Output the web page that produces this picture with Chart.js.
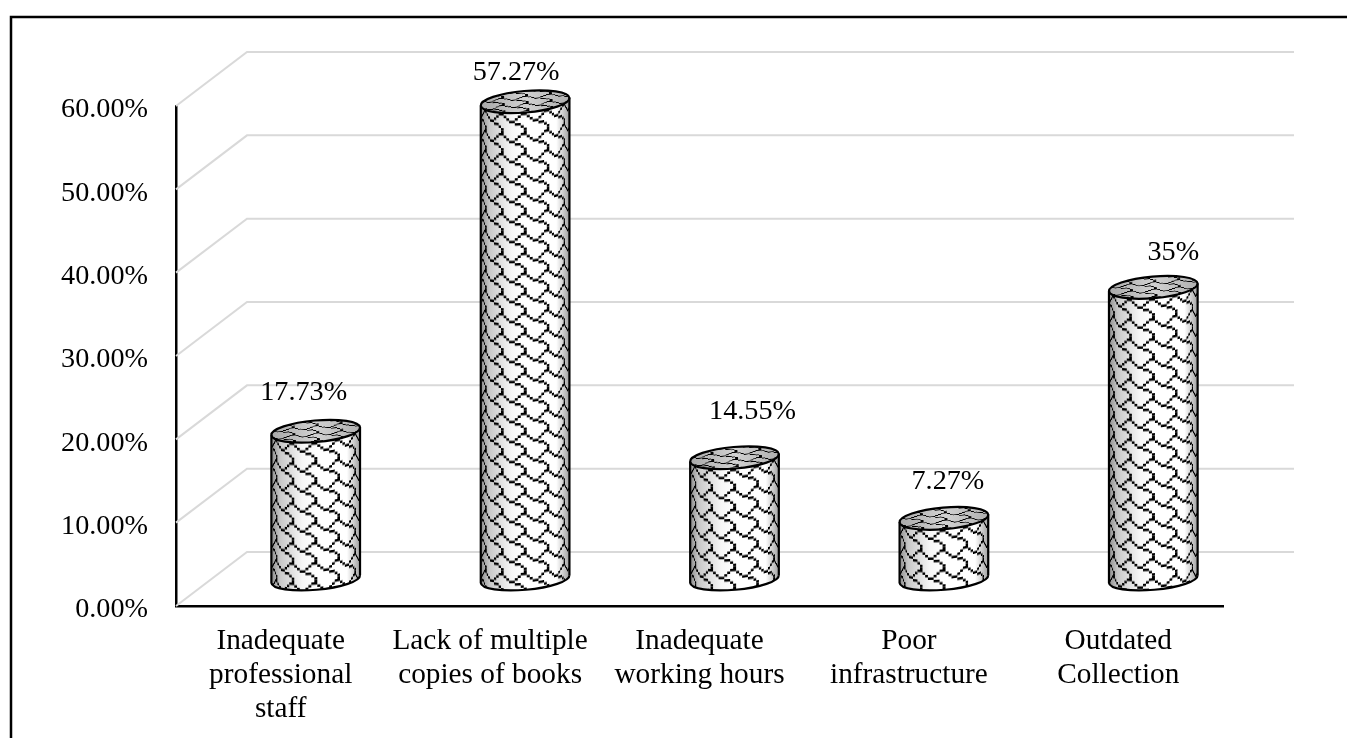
<!DOCTYPE html>
<html>
<head>
<meta charset="utf-8">
<style>
  html, body { margin: 0; background: #fff; }
  canvas { display: block; }
</style>
<script src="https://cdn.jsdelivr.net/npm/chart.js@4/dist/chart.umd.min.js"></script>
</head>
<body>
<canvas id="chart" width="1347" height="738"></canvas>
<script>
const categories = [
  ["Inadequate", "professional", "staff"],
  ["Lack of multiple", "copies of books"],
  ["Inadequate", "working hours"],
  ["Poor", "infrastructure"],
  ["Outdated", "Collection"]
];
const percentValues = [17.73, 57.27, 14.55, 7.27, 35];
const labelNudges = [[-12, -39], [-9, -29], [18, -46], [4, -37], [20, -35]];

const FONT = '"Liberation Serif", "Times New Roman", serif';
const VALUE_SIZE = 28.2;
const CATEGORY_SIZE = 29.3;
const WALL_DX = 71, WALL_DY = 54;   // how far the back wall sits from the front axes
const BAR_DX = 35, BAR_DY = 27;     // cylinders stand halfway into the floor
const TILT = -5 * Math.PI / 180;
const CAP_RY = 10.8;

// 8x8 shingle hatch, one byte per row
const shingleBits = [0x03, 0x84, 0x48, 0x30, 0x0c, 0x02, 0x01, 0x01];
const CELL_W = 3, CELL_H = 2.5;

function makeShingleStrip(w, h) {
  const tile = document.createElement("canvas");
  tile.width = 8 * CELL_W;
  tile.height = 8 * CELL_H;
  const t = tile.getContext("2d");
  t.fillStyle = "#000";
  shingleBits.forEach((byte, row) => {
    for (let col = 0; col < 8; col++) {
      if (byte & (0x80 >> col)) t.fillRect(col * CELL_W, row * CELL_H, CELL_W, CELL_H);
    }
  });
  const strip = document.createElement("canvas");
  strip.width = w;
  strip.height = h;
  const s = strip.getContext("2d");
  s.fillStyle = s.createPattern(tile, "repeat");
  s.fillRect(0, 0, w, h);
  return strip;
}
const strip = makeShingleStrip(200, 640);

function drawCylinder(ctx, cx, topY, baseY, rx) {
  const R = rx;
  const endX = rx * Math.cos(TILT);
  const endY = rx * Math.sin(TILT);

  // side wall
  ctx.save();
  ctx.beginPath();
  ctx.ellipse(cx, baseY, rx, CAP_RY, TILT, 0, Math.PI);
  ctx.lineTo(cx - endX, topY - endY);
  ctx.lineTo(cx + endX, topY + endY);
  ctx.closePath();
  ctx.clip();

  const shade = ctx.createLinearGradient(cx - rx, 0, cx + rx, 0);
  shade.addColorStop(0, "#8c8c8c");
  shade.addColorStop(0.1, "#c8c8c8");
  shade.addColorStop(0.35, "#f6f6f6");
  shade.addColorStop(0.5, "#ffffff");
  shade.addColorStop(0.85, "#ffffff");
  shade.addColorStop(1, "#a0a0a0");
  ctx.fillStyle = shade;
  ctx.fillRect(cx - rx - 2, topY - 20, 2 * rx + 4, baseY - topY + 50);

  // wrap the hatch round the wall, one pixel column at a time
  const bodyH = baseY - topY + 40;
  for (let x = -Math.ceil(rx); x < rx; x++) {
    const k = Math.max(-1, Math.min(1, (x + 0.5) / R));
    const u = R * Math.asin(k) + R * Math.PI / 2;
    const drop = CAP_RY * Math.sqrt(1 - k * k) + Math.tan(TILT) * x;
    ctx.drawImage(strip, u, 0, 1, bodyH, cx + x, topY - 20 + drop, 1, bodyH);
  }
  ctx.restore();

  // lid
  ctx.save();
  ctx.beginPath();
  ctx.ellipse(cx, topY, rx, CAP_RY, TILT, 0, Math.PI * 2);
  ctx.clip();
  const lid = ctx.createLinearGradient(cx - rx, 0, cx + rx, 0);
  lid.addColorStop(0, "#a8a8a8");
  lid.addColorStop(0.5, "#d2d2d2");
  lid.addColorStop(1, "#b0b0b0");
  ctx.fillStyle = lid;
  ctx.fillRect(cx - rx - 2, topY - 20, 2 * rx + 4, 40);
  ctx.translate(cx, topY);
  ctx.rotate(TILT);
  ctx.drawImage(strip, 0, 0, 2 * rx, 72, -rx, -13, 2 * rx, 26);
  ctx.restore();

  // outlines
  ctx.strokeStyle = "#000";
  ctx.lineWidth = 2.2;
  ctx.beginPath();
  ctx.ellipse(cx, baseY, rx, CAP_RY, TILT, 0, Math.PI);
  ctx.lineTo(cx - endX, topY - endY);
  ctx.moveTo(cx + endX, topY + endY);
  ctx.lineTo(cx + endX, baseY + endY);
  ctx.stroke();
  ctx.beginPath();
  ctx.ellipse(cx, topY, rx, CAP_RY, TILT, 0, Math.PI * 2);
  ctx.stroke();
}

const pagePlugin = {
  id: "page",
  beforeDraw(chart) {
    const c = chart.ctx;
    c.save();
    c.fillStyle = "#fff";
    c.fillRect(0, 0, chart.width, chart.height);
    c.strokeStyle = "#000";
    c.lineWidth = 2.5;
    c.beginPath();
    c.moveTo(11, chart.height);
    c.lineTo(11, 17);
    c.lineTo(chart.width, 17);
    c.stroke();
    c.restore();
  }
};

const wallPlugin = {
  id: "wall",
  beforeDatasetsDraw(chart) {
    const c = chart.ctx, y = chart.scales.y, left = chart.chartArea.left;
    c.save();
    c.strokeStyle = "#d9d9d9";
    c.lineWidth = 2;
    y.ticks.forEach(t => {
      const py = y.getPixelForValue(t.value);
      c.beginPath();
      c.moveTo(left, py);
      c.lineTo(left + WALL_DX, py - WALL_DY);
      c.lineTo(1294, py - WALL_DY);
      c.stroke();
    });
    c.restore();
  }
};

const cylinderPlugin = {
  id: "cylinders",
  afterDatasetsDraw(chart) {
    const c = chart.ctx;
    const bars = chart.getDatasetMeta(0).data;
    bars.forEach((bar, i) => {
      const cx = bar.x + BAR_DX;
      const topY = bar.y - BAR_DY;
      drawCylinder(c, cx, topY, bar.base - BAR_DY, bar.width / 2);
      c.save();
      c.fillStyle = "#000";
      c.font = VALUE_SIZE + "px " + FONT;
      c.textAlign = "center";
      c.textBaseline = "middle";
      c.fillText(percentValues[i] + "%", cx + labelNudges[i][0], topY + labelNudges[i][1]);
      c.restore();
    });
  }
};

new Chart(document.getElementById("chart"), {
  type: "bar",
  data: {
    labels: categories,
    datasets: [{
      data: percentValues,
      backgroundColor: "transparent",
      borderWidth: 0,
      categoryPercentage: 1,
      barPercentage: 0.425
    }]
  },
  options: {
    responsive: false,
    animation: false,
    layout: { padding: { top: 106, right: 124, left: 0, bottom: 0 } },
    plugins: { legend: { display: false }, tooltip: { enabled: false } },
    scales: {
      x: {
        afterFit(scale) { scale.height = 132; },
        grid: { display: false, drawTicks: false },
        border: { color: "#000", width: 2.5 },
        ticks: {
          color: "#000",
          padding: 18,
          maxRotation: 0,
          autoSkip: false,
          font: { family: FONT, size: CATEGORY_SIZE, lineHeight: 1.16 }
        }
      },
      y: {
        min: 0,
        max: 60,
        afterFit(scale) { scale.width = 176; },
        grid: { display: false, drawTicks: false },
        border: { color: "#000", width: 2.5 },
        ticks: {
          stepSize: 10,
          color: "#000",
          padding: 28,
          labelOffset: 4,
          font: { family: FONT, size: VALUE_SIZE },
          callback: v => v.toFixed(2) + "%"
        }
      }
    }
  },
  plugins: [pagePlugin, wallPlugin, cylinderPlugin]
});
</script>
</body>
</html>
